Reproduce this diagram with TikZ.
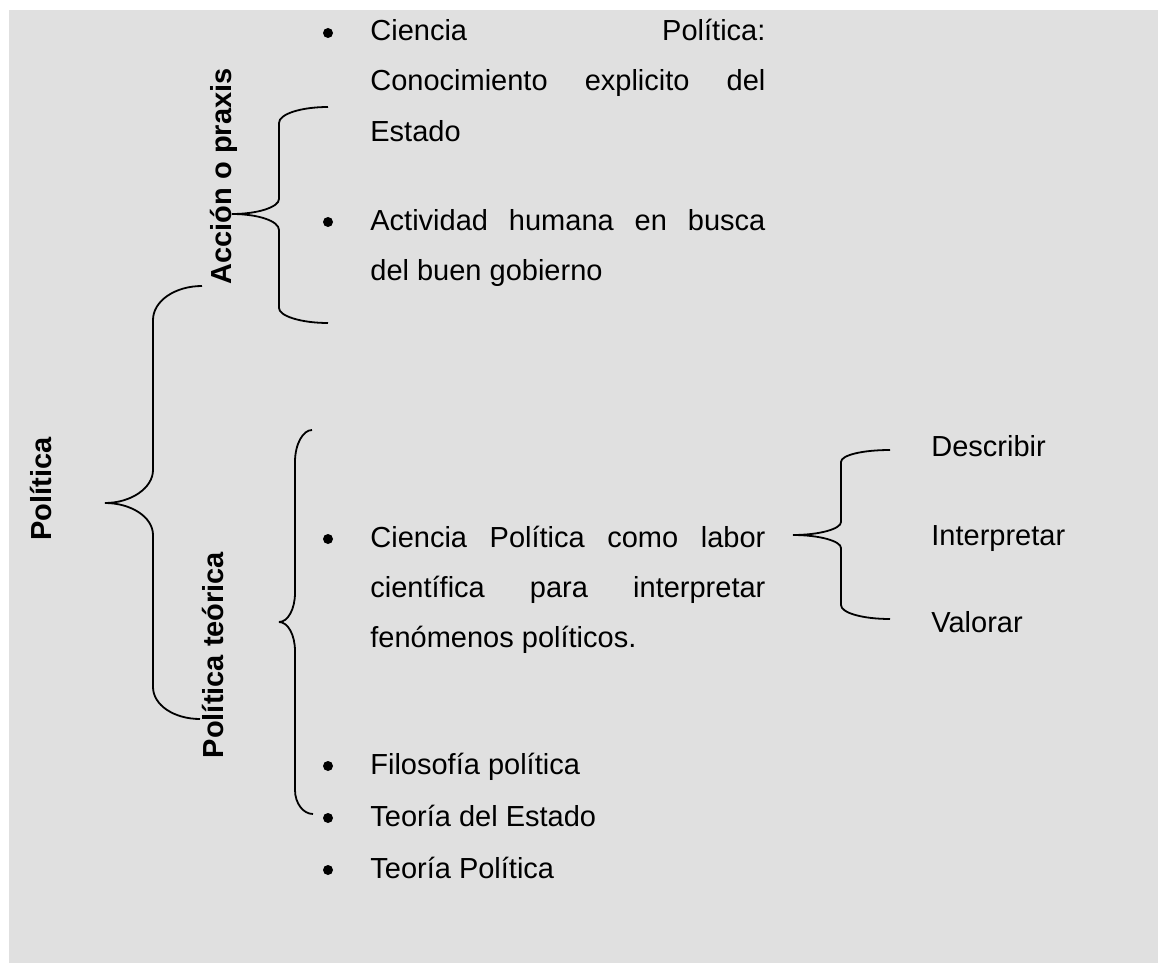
\documentclass[tikz,border=0pt]{standalone}
\usepackage{fontspec}
\setmainfont{Liberation Sans}
\usepackage{tikz}
\definecolor{fondo}{RGB}{224,224,224}

\begin{document}
\begin{tikzpicture}[x=0.5pt,y=0.5pt,
    llave/.style={line width=0.9pt},
    item/.style={anchor=base west,inner sep=0pt,font=\fontsize{14.5pt}{25pt}\selectfont},
    titulo/.style={anchor=base,rotate=90,inner sep=0pt,font=\fontsize{14.5pt}{25pt}\selectfont\bfseries},
    punto/.style={circle,fill,inner sep=0pt,minimum size=5pt}]
  \useasboundingbox (0,0) rectangle (1158,-963);
  \fill[fondo] (9,-10) rectangle (1158,-963);
  %
  \node[titulo] (pol) at (52,-489) {Política};
  \node[titulo] (acc) at (231,-176.5) {Acción o praxis};
  \node[titulo] (teo) at (223,-655) {Política teórica};
  %
  \node[punto] (b1) at (328,-33) {};
  \node[item] (cp1) at (370,-41) {\makebox[197.5pt][s]{Ciencia Política:}};
  \node[item] (cp2) at (370,-91) {\makebox[197.5pt][s]{Conocimiento explicito del}};
  \node[item] (cp3) at (370,-141) {Estado};
  \node[punto] (b2) at (328,-222) {};
  \node[item] (ah1) at (370,-230) {\makebox[197.5pt][s]{Actividad humana en busca}};
  \node[item] (ah2) at (370,-280) {del buen gobierno};
  %
  \node[punto] (b3) at (328,-539) {};
  \node[item] (cl1) at (370,-547) {\makebox[197.5pt][s]{Ciencia Política como labor}};
  \node[item] (cl2) at (370,-597) {\makebox[197.5pt][s]{científica para interpretar}};
  \node[item] (cl3) at (370,-647) {fenómenos políticos.};
  \node[punto] (b4) at (328,-766) {};
  \node[item] (fil) at (370,-774) {Filosofía política};
  \node[punto] (b5) at (328,-818) {};
  \node[item] (tes) at (370,-826) {Teoría del Estado};
  \node[punto] (b6) at (328,-870) {};
  \node[item] (tep) at (370,-878) {Teoría Política};
  %
  \node[item] (des) at (931,-456.7) {Describir};
  \node[item] (int) at (931,-545.7) {Interpretar};
  \node[item] (val) at (931,-632.7) {Valorar};
  %
  \coordinate (tA) at (105,-503);
  \coordinate (tB) at (232,-214);
  \coordinate (tC) at (279,-622);
  \coordinate (tD) at (793,-535);
  \draw[llave] (tA) .. controls +(26,0) and +(0,-18) .. ++(48,33) -- ++(0,150)
    .. controls +(0,19) and +(-27,0) .. ++(49,34);
  \draw[llave] (tA) .. controls +(26,0) and +(0,18) .. ++(48,-32) -- ++(0,-152)
    .. controls +(0,-18) and +(-26,0) .. ++(47,-32);
  \draw[llave] (tB) .. controls +(26,0) and +(0,-8) .. ++(47,15) -- ++(0,76)
    .. controls +(0,9) and +(-27,0) .. ++(49,16);
  \draw[llave] (tB) .. controls +(26,0) and +(0,9) .. ++(47,-16) -- ++(0,-78)
    .. controls +(0,-8) and +(-27,0) .. ++(49,-15);
  \draw[llave] (tC) .. controls +(9,0) and +(0,-16) .. ++(16,29) -- ++(0,131)
    .. controls +(0,18) and +(-9,0) .. ++(17,32);
  \draw[llave] (tC) .. controls +(9,0) and +(0,16) .. ++(16,-29) -- ++(0,-139)
    .. controls +(0,-13) and +(-10,0) .. ++(18,-24);
  \draw[llave] (tD) .. controls +(26,0) and +(0,-7) .. ++(48,13) -- ++(0,60)
    .. controls +(0,7) and +(-27,0) .. ++(49,12);
  \draw[llave] (tD) .. controls +(26,0) and +(0,7) .. ++(48,-13) -- ++(0,-57)
    .. controls +(0,-8) and +(-27,0) .. ++(49,-14);
\end{tikzpicture}
\end{document}
